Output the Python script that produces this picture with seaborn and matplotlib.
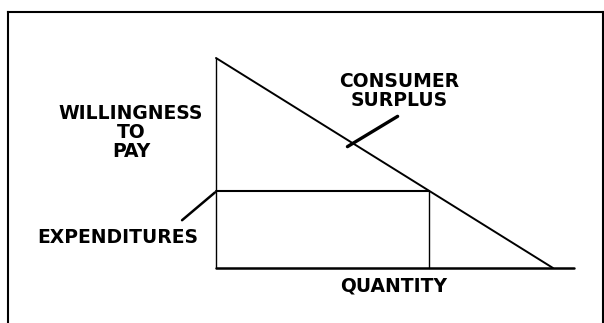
import matplotlib
matplotlib.use("Agg")
import matplotlib.pyplot as plt
import seaborn as sns

sns.set_style("white")
plt.rcParams['font.family'] = ['DejaVu Sans']

# datos del diagrama (unidades arbitrarias)
demanda_q = [0, 10]
demanda_p = [10, 0]
q_eq = 6.32
p_eq = 3.68
eje_q_max = 10.62
eje_p_max = 10

fig = plt.figure(figsize=(6.04, 3.23), dpi=100)
# ejes que hacen de marco (abierto por abajo)
ax = fig.add_axes([8 / 604, 0, 595 / 604, 311 / 323])
ax.set_xlim(-6.172, 11.484)
ax.set_ylim(-2.619, 12.190)
ax.set_xticks([])
ax.set_yticks([])
for lado in ['left', 'top', 'right']:
    ax.spines[lado].set_linewidth(1.5)
    ax.spines[lado].set_color('black')
ax.spines['bottom'].set_visible(False)

# curva de demanda
sns.lineplot(x=demanda_q, y=demanda_p, ax=ax, color='black', linewidth=1.4,
             sort=False, estimator=None)
# eje de precio y eje de cantidad
sns.lineplot(x=[0, 0], y=[0, eje_p_max], ax=ax, color='black', linewidth=1.0,
             sort=False, estimator=None)
sns.lineplot(x=[0, eje_q_max], y=[0, 0], ax=ax, color='black', linewidth=1.8,
             sort=False, estimator=None)
# gasto (rectángulo)
sns.lineplot(x=[0, q_eq], y=[p_eq, p_eq], ax=ax, color='black', linewidth=1.5,
             sort=False, estimator=None)
sns.lineplot(x=[q_eq, q_eq], y=[0, p_eq], ax=ax, color='black', linewidth=1.0,
             sort=False, estimator=None)

estilo = dict(fontsize=13.5, fontweight='heavy', color='black', ha='center', va='center')
ax.text(-2.52, 6.45, 'WILLINGNESS\nTO\nPAY', linespacing=1.0, **estilo)
ax.text(5.43, 8.43, 'CONSUMER\nSURPLUS', linespacing=1.0, **estilo)
ax.text(5.28, -0.86, 'QUANTITY', **estilo)
ax.text(-2.91, 1.43, 'EXPENDITURES', **estilo)

# líneas guía de las etiquetas
ax.annotate('', xy=(0.03, p_eq), xytext=(-1.07, 2.19),
            arrowprops=dict(arrowstyle='-', color='black', lw=1.8))
ax.annotate('', xy=(3.83, 5.71), xytext=(5.46, 7.29),
            arrowprops=dict(arrowstyle='-', color='black', lw=2.4))

fig.savefig('out.png', dpi=100)
